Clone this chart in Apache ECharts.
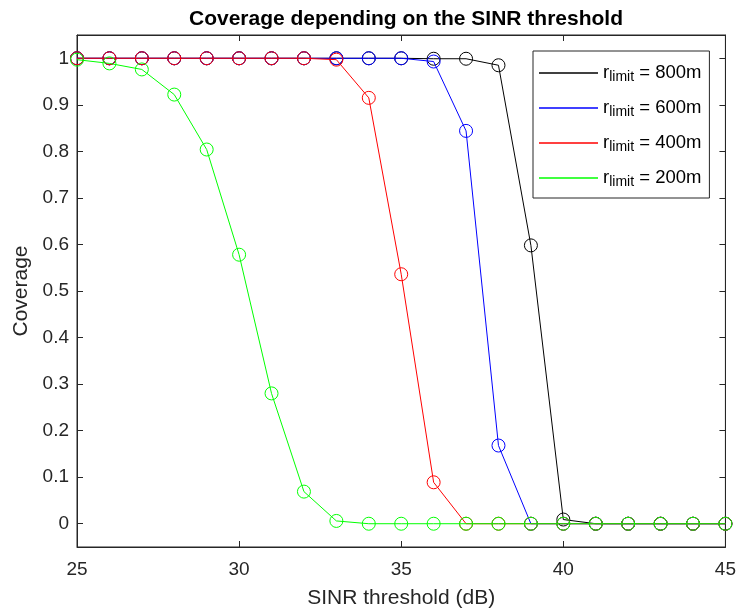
<!DOCTYPE html>
<html>
<head>
<meta charset="utf-8">
<script src="https://cdn.jsdelivr.net/npm/echarts@6/dist/echarts.min.js"></script>
<style>
  html, body { margin: 0; padding: 0; background: #fff; }
  #chart { width: 739px; height: 614px; }
</style>
</head>
<body>
<div id="chart"></div>
<script>
// SINR threshold (dB)
var thresholds = [25, 26, 27, 28, 29, 30, 31, 32, 33, 34, 35, 36, 37, 38, 39, 40, 41, 42, 43, 44, 45];
// coverage per r_limit
var cov800 = [1, 1, 1, 1, 1, 1, 1, 1, 1, 1, 1, 0.999, 0.999, 0.985, 0.598, 0.009, 0, 0, 0, 0, 0];
var cov600 = [1, 1, 1, 1, 1, 1, 1, 1, 1, 1, 1, 0.993, 0.844, 0.168, 0, 0, 0, 0, 0, 0, 0];
var cov400 = [1, 1, 1, 1, 1, 1, 1, 1, 0.997, 0.915, 0.536, 0.089, 0, 0, 0, 0, 0, 0, 0, 0, 0];
var cov200 = [0.997, 0.989, 0.976, 0.922, 0.804, 0.578, 0.28, 0.069, 0.006, 0, 0, 0, 0, 0, 0, 0, 0, 0, 0, 0, 0];
var yTicks = [0, 0.1, 0.2, 0.3, 0.4, 0.5, 0.6, 0.7, 0.8, 0.9, 1];
var xTicks = [25, 30, 35, 40, 45];

var names = ['800m', '600m', '400m', '200m'];
var colors = ['#000000', '#0000ff', '#ff0000', '#00ff00'];
var allData = [cov800, cov600, cov400, cov200];

var font = 'Liberation Sans, Arial, sans-serif';
var axisCol = '#262626';

var series = names.map(function (n, i) {
    return {
        name: n,
        type: 'line',
        data: thresholds.map(function (x, j) { return [x, allData[i][j]]; }),
        symbol: 'circle',
        symbolSize: 13,
        lineStyle: { color: colors[i], width: 1 },
        itemStyle: { color: 'transparent', borderColor: colors[i], borderWidth: 1 },
        emphasis: { disabled: true },
        z: 2 + i
    };
});

var chart = echarts.init(document.getElementById('chart'));
chart.setOption({
    animation: false,
    textStyle: { fontFamily: font },
    title: {
        text: 'Coverage depending on the SINR threshold',
        left: 401, top: 4, textAlign: 'center',
        textStyle: { fontSize: 21, fontWeight: 'bold', color: '#000', fontFamily: font }
    },
    grid: { left: 77, right: 13, top: 35, bottom: 67, show: true, borderColor: axisCol, borderWidth: 1 },
    legend: {
        orient: 'vertical',
        left: 533, top: 51,
        padding: [9, 8, 9, 6],
        itemGap: 11,
        itemWidth: 59,
        itemHeight: 1.5,
        icon: 'rect',
        borderColor: axisCol,
        borderWidth: 1,
        backgroundColor: '#fff',
        data: names.map(function (n, i) {
            return { name: n, itemStyle: { color: colors[i], borderWidth: 0 } };
        }),
        formatter: function (n) { return '{r|r}{s|limit}{r| = ' + n + '}'; },
        textStyle: {
            color: '#000',
            rich: {
                r: { fontSize: 18.5, fontFamily: font, color: '#000', lineHeight: 22, verticalAlign: 'middle' },
                s: { fontSize: 14, fontFamily: font, color: '#000', lineHeight: 22, verticalAlign: 'bottom', padding: [10, 0, 0, 0] }
            }
        }
    },
    xAxis: [{
        type: 'value', min: 25, max: 45, interval: 5,
        name: 'SINR threshold (dB)', nameLocation: 'middle', nameGap: 41,
        nameTextStyle: { fontSize: 21, color: axisCol, fontFamily: font },
        axisLine: { onZero: false, lineStyle: { color: axisCol } },
        axisTick: { inside: true, length: 6, lineStyle: { color: axisCol } },
        axisLabel: { fontSize: 19, color: axisCol, margin: 13, fontFamily: font,
                     customValues: xTicks },
        splitLine: { show: false }
    }, {
        type: 'value', min: 25, max: 45, interval: 5, position: 'top',
        axisLine: { onZero: false, lineStyle: { color: axisCol } },
        axisTick: { inside: true, length: 6, lineStyle: { color: axisCol } },
        axisLabel: { show: false },
        splitLine: { show: false }
    }],
    yAxis: [{
        type: 'value', min: -0.05, max: 1.05,
        name: 'Coverage', nameLocation: 'middle', nameGap: 42,
        nameTextStyle: { fontSize: 21, color: axisCol, fontFamily: font },
        axisLine: { show: true, onZero: false, lineStyle: { color: axisCol } },
        axisTick: { inside: true, length: 6, lineStyle: { color: axisCol }, customValues: yTicks },
        axisLabel: { fontSize: 19, color: axisCol, margin: 8, fontFamily: font, customValues: yTicks },
        splitLine: { show: false }
    }, {
        type: 'value', min: -0.05, max: 1.05, position: 'right',
        axisLine: { show: true, onZero: false, lineStyle: { color: axisCol } },
        axisTick: { inside: true, length: 6, lineStyle: { color: axisCol }, customValues: yTicks },
        axisLabel: { show: false },
        splitLine: { show: false }
    }],
    series: series
});
</script>
</body>
</html>
